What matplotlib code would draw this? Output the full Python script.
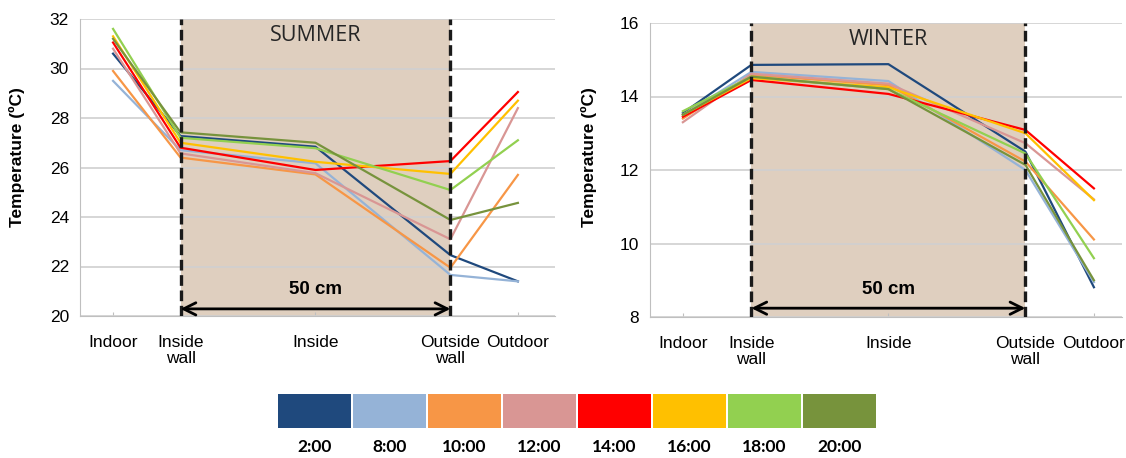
import matplotlib
matplotlib.use('Agg')
import matplotlib.pyplot as plt

# measurement points through the wall
points = ['Indoor', 'Inside\nwall', 'Inside', 'Outside\nwall', 'Outdoor']
point_x = [0, 1, 3, 5, 6]

hours = ['2:00', '8:00', '10:00', '12:00', '14:00', '16:00', '18:00', '20:00']
colors = ['#1F497D', '#95B3D7', '#F79646', '#D99694', '#FF0000', '#FFC000', '#92D050', '#77933C']

summer = [
    [30.6, 27.27, 26.84, 22.46, 21.4],
    [29.5, 26.70, 26.17, 21.66, 21.4],
    [29.9, 26.40, 25.72, 21.95, 25.7],
    [30.8, 26.57, 25.77, 23.10, 28.4],
    [31.05, 26.80, 25.90, 26.26, 29.05],
    [31.3, 27.00, 26.23, 25.74, 28.7],
    [31.6, 27.20, 26.78, 25.09, 27.1],
    [31.2, 27.42, 27.00, 23.88, 24.57],
]
winter = [
    [13.55, 14.86, 14.88, 12.50, 8.81],
    [13.50, 14.67, 14.42, 12.00, 8.95],
    [13.40, 14.59, 14.31, 12.23, 10.11],
    [13.30, 14.62, 14.35, 12.73, 11.20],
    [13.45, 14.45, 14.07, 13.09, 11.50],
    [13.50, 14.50, 14.25, 13.00, 11.18],
    [13.60, 14.54, 14.20, 12.45, 9.60],
    [13.50, 14.54, 14.20, 12.14, 9.00],
]

summer_ticks = [20, 22, 24, 26, 28, 30, 32]
winter_ticks = [8, 10, 12, 14, 16]

W, H = 1126, 458
fig = plt.figure(figsize=(W / 100, H / 100), dpi=100)

def px_axes(x0, y_top, x1, y_bot):
    return fig.add_axes([x0 / W, 1 - y_bot / H, (x1 - x0) / W, (y_bot - y_top) / H])

def draw_panel(ax, data, ticks, title, xlim, arrow_y):
    ax.set_xlim(*xlim)
    ax.set_ylim(ticks[0], ticks[-1])
    # wall area
    ax.axvspan(point_x[1], point_x[3], color='#DFCFBF', zorder=0.2, lw=0)
    ax.grid(axis='y', color='#D0D0D0', lw=1.2)
    for vals, c in zip(data, colors):
        ax.plot(point_x, vals, color=c, lw=1.6, zorder=2)
    for xv in (point_x[1], point_x[3]):
        ax.axvline(xv, color='#1a1a1a', lw=2.4, dashes=(3.2, 1.4), zorder=3)
    ax.annotate('', xy=(point_x[3], arrow_y), xytext=(point_x[1], arrow_y),
                xycoords=('data', 'axes fraction'),
                arrowprops=dict(arrowstyle='<->', lw=2, color='black',
                                mutation_scale=22, shrinkA=0, shrinkB=0), zorder=4)
    ax.text(point_x[2], arrow_y + 0.065, '50 cm', transform=ax.get_xaxis_transform(),
            ha='center', va='center', fontsize=13.5, fontweight='bold', family='Liberation Sans')
    ax.text(point_x[2], 0.945, title, transform=ax.get_xaxis_transform(),
            ha='center', va='center', fontsize=15.5, color='#262626', family='Open Sans')
    ax.set_yticks(ticks)
    ax.set_yticklabels([str(t) for t in ticks], fontsize=12.5, family='Liberation Sans')
    ax.set_xticks(point_x)
    ax.set_xticklabels(points, fontsize=12.5, family='Liberation Sans', linespacing=1.05)
    ax.tick_params(axis='y', length=0, pad=8)
    ax.tick_params(axis='x', length=3, direction='in', color='#BFBFBF', pad=14)
    for s in ('top', 'right'):
        ax.spines[s].set_visible(False)
    for s in ('left', 'bottom'):
        ax.spines[s].set_color('#BFBFBF')
    ax.set_ylabel('Temperature (ºC)', fontsize=12.5, fontweight='bold', family='Liberation Sans')

ax1 = px_axes(80, 19, 555, 316)
draw_panel(ax1, summer, summer_ticks, 'SUMMER', (-0.49, 6.55), 0.024)
ax1.yaxis.set_label_coords(-0.116, 0.535)

ax2 = px_axes(650, 23, 1122, 317)
draw_panel(ax2, winter, winter_ticks, 'WINTER', (-0.48, 6.41), 0.03)
ax2.yaxis.set_label_coords(-0.112, 0.544)

# colour key below the charts
leg = px_axes(277, 394, 877, 428)
leg.bar(range(len(hours)), [1] * len(hours), width=0.975, color=colors)
leg.set_xlim(-0.5, len(hours) - 0.5)
leg.set_ylim(0, 1)
leg.set_yticks([])
leg.set_xticks(range(len(hours)))
leg.set_xticklabels(hours, fontsize=12.5, fontweight='bold', family='Lato')
leg.tick_params(axis='x', length=0, pad=8)
for s in leg.spines.values():
    s.set_visible(False)

fig.savefig('out.png', dpi=100)
